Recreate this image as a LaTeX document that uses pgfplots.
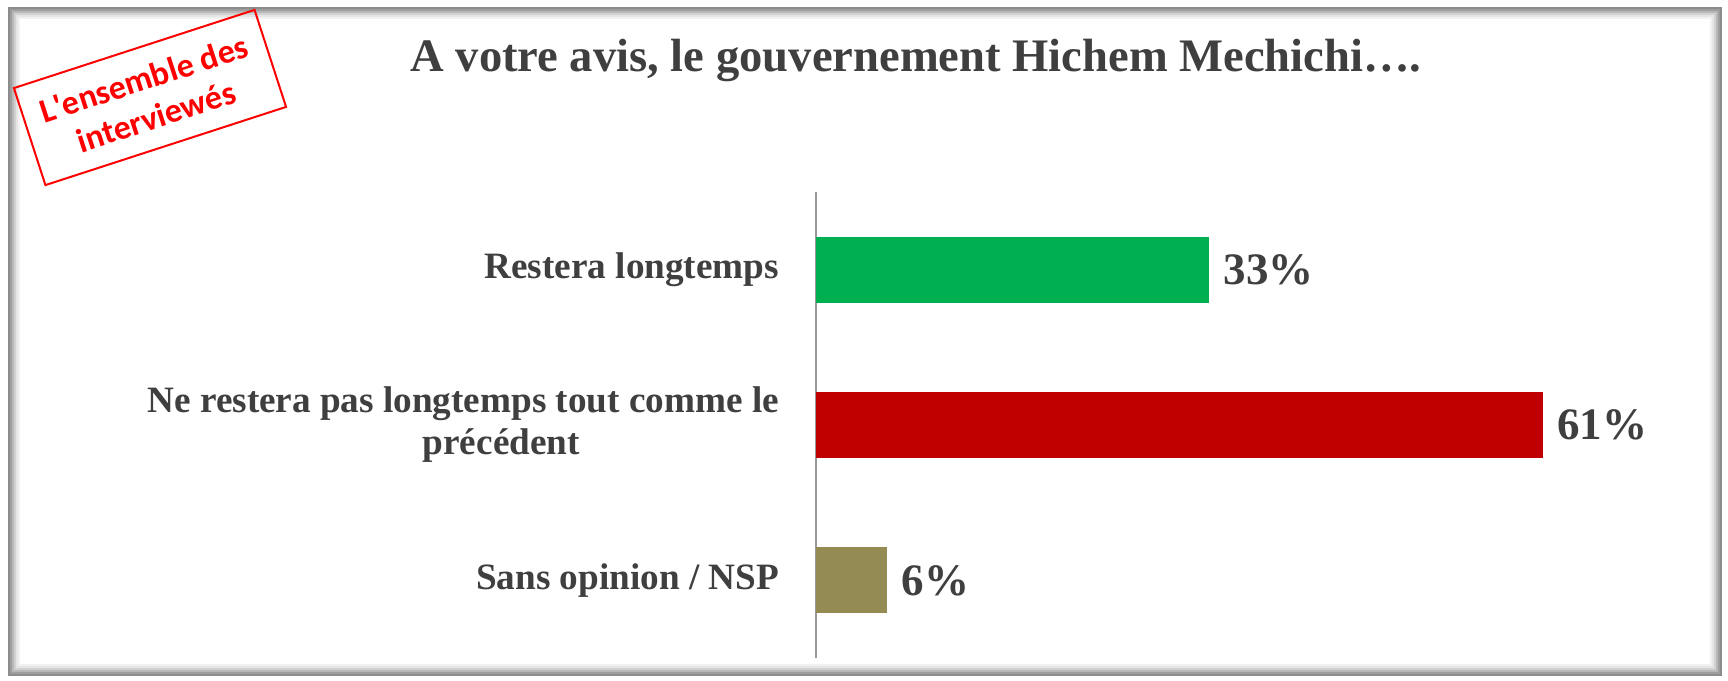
\documentclass[border=0pt]{standalone}
\usepackage{fontspec}
\setmainfont{Liberation Serif}
\newfontfamily\calibri{Carlito}
\usepackage{pgfplots}
\pgfplotsset{compat=1.18}

\definecolor{txt}{HTML}{3F3F3F}
\definecolor{barGreen}{HTML}{00B050}
\definecolor{barRed}{HTML}{C00000}
\definecolor{barOlive}{HTML}{948A54}

\begin{document}
\begin{tikzpicture}
\path[use as bounding box] (0,0) rectangle (864pt,340pt);

% frame with soft inner shadow, drawn in reference pixels (1px = 0.5pt)
\begin{scope}[x=0.5pt,y=-0.5pt,shift={(0,340pt)}]
  \fill[white] (8,7) rectangle (1722,676);
  \foreach \i/\c in {0/45,1/38,2/28,3/18,4/10,5/5}
    \draw[black!\c, line width=1pt] (9+2*\i,8+2*\i) rectangle (1721-2*\i,675-2*\i);
  % stamp
  \node[draw=red, line width=1pt, rotate=18, minimum width=126.5pt,
        minimum height=51pt, inner sep=0pt, text=red, align=center,
        font=\calibri\bfseries\fontsize{17}{20}\selectfont]
    at (150,97.5) {L\textquotesingle ensemble des\\interviewés};
  % title
  \node[anchor=base, text=txt, font=\bfseries\fontsize{23.3}{28}\selectfont]
    at (916,72) {A votre avis, le gouvernement Hichem Mechichi….};
\end{scope}

\begin{axis}[
    at={(408pt,11pt)}, anchor=south west,
    scale only axis,
    width=417pt, height=233pt,
    xmin=0, xmax=70,
    ymin=-0.5, ymax=2.5,
    xbar, bar width=33pt, bar shift=0pt,
    axis x line=none,
    axis y line*=left,
    y axis line style={draw=gray!80, line width=0.75pt},
    ytick={0,1,2},
    yticklabels={Sans opinion / NSP,
                 {Ne restera pas longtemps tout comme le\\\hspace*{38pt}précédent},
                 Restera longtemps},
    ytick style={draw=none},
    yticklabel style={font=\bfseries\fontsize{18.6}{21}\selectfont, text=txt,
                      align=center, inner sep=0pt, xshift=-14pt},
    /pgf/number format/assume math mode=true,
    nodes near coords={\pgfmathprintnumber{\pgfplotspointmeta}\%},
    nodes near coords style={anchor=west, inner sep=0pt, xshift=7pt,
                             text=txt, font=\bfseries\fontsize{22.5}{26}\selectfont},
    clip=false,
]
% Restera longtemps
\addplot[fill=barGreen, draw=none] coordinates {(33,2)};
% Ne restera pas longtemps
\addplot[fill=barRed, draw=none] coordinates {(61,1)};
% Sans opinion / NSP
\addplot[fill=barOlive, draw=none] coordinates {(6,0)};
\end{axis}
\end{tikzpicture}
\end{document}
